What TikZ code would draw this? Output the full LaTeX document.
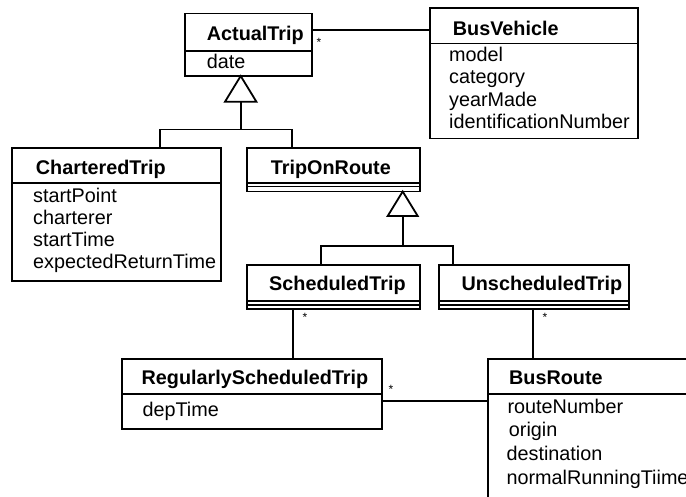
\documentclass[tikz,border=0pt]{standalone}
\usepackage{fontspec}
\setmainfont{Liberation Sans}
\begin{document}
\begin{tikzpicture}[x=1pt,y=-1pt,
  line width=1.8pt,
  cls/.style={draw, rectangle, inner sep=0pt, outer sep=0pt},
  ttl/.style={anchor=base west, inner sep=0pt, font=\bfseries\fontsize{19.8}{22}\selectfont},
  att/.style={anchor=base west, inner sep=0pt, font=\fontsize{19.8}{22}\selectfont},
  mult/.style={inner sep=0pt, font=\fontsize{12}{12}\selectfont},
  tri/.style={draw, fill=white, line join=miter}]
\useasboundingbox (0,0) rectangle (686,496);
\clip (0,0) rectangle (686,496);

% ---- class boxes ----
\node[cls, minimum width=127pt,   minimum height=62.5pt]  (at)  at (248.5,44.75) {};
\node[cls, minimum width=208pt,   minimum height=130.2pt] (bv)  at (534,73.4) {};
\node[cls, minimum width=209.3pt, minimum height=132.7pt] (ct)  at (116.35,214.65) {};
\node[cls, minimum width=172.7pt, minimum height=43.2pt]  (tor) at (333.65,169.9) {};
\node[cls, minimum width=172.7pt, minimum height=44pt]    (st)  at (333.65,287) {};
\node[cls, minimum width=190pt,   minimum height=44pt]    (ust) at (534.3,287) {};
\node[cls, minimum width=260pt,   minimum height=70pt]    (rst) at (251.7,394) {};
\node[cls, minimum width=232.3pt, minimum height=160.7pt] (br)  at (603.85,439.65) {};

% ---- compartment separators ----
\foreach \n/\d in {at/37.5, bv/35.2, ct/35, tor/34.7, tor/38.2, st/36, st/40,
                   ust/36, ust/40, rst/35, br/34.7}
  \draw ([yshift=-\d pt]\n.north west) -- ([yshift=-\d pt]\n.north east);

% ---- class names and attributes ----
\node[ttl] (at-t) at (206,40) {ActualTrip};
\node[att] (at-a1) at (206,68) {date};

\node[ttl] (bv-t) at (452,35) {BusVehicle};
\node[att] (bv-a1) at (448.3,61) {model};
\node[att] (bv-a2) at (448.3,83.5) {category};
\node[att] (bv-a3) at (448.3,106) {yearMade};
\node[att] (bv-a4) at (448.3,128.3) {identificationNumber};

\node[ttl] (ct-t) at (35,174) {CharteredTrip};
\node[att] (ct-a1) at (32.3,202.3) {startPoint};
\node[att] (ct-a2) at (32.3,224.3) {charterer};
\node[att] (ct-a3) at (32.3,246.3) {startTime};
\node[att] (ct-a4) at (32.3,268.3) {expectedReturnTime};

\node[ttl] (tor-t) at (270,174) {TripOnRoute};
\node[ttl] (st-t) at (268.3,290.7) {ScheduledTrip};
\node[ttl] (ust-t) at (460.7,290.7) {UnscheduledTrip};

\node[ttl] (rst-t) at (140.7,384.3) {RegularlyScheduledTrip};
\node[att] (rst-a1) at (141.7,416.7) {depTime};

\node[ttl] (br-t) at (508.3,384.3) {BusRoute};
\node[att] (br-a1) at (506.7,413.3) {routeNumber};
\node[att] (br-a2) at (508,436) {origin};
\node[att] (br-a3) at (505.7,460) {destination};
\node[att] (br-a4) at (505.7,484.3) {normalRunningTiime};

% ---- generalisation: ActualTrip ----
\coordinate (g1) at ([xshift=55.7pt]at.south west);
\coordinate (g1b) at ([yshift=-25.7pt]g1);
\coordinate (j1) at ([yshift=-53.5pt]g1);
\coordinate (ct-top) at ([xshift=148.3pt]ct.north west);
\coordinate (tor-top) at ([xshift=44.4pt]tor.north west);
\draw (g1b) -- (j1);
\draw (ct-top) |- (j1) -| (tor-top);
\draw[tri] (g1) -- ([xshift=-15.7pt]g1b) -- ([xshift=15.7pt]g1b) -- cycle;

% ---- generalisation: TripOnRoute ----
\coordinate (g2) at ([xshift=155.4pt]tor.south west);
\coordinate (g2b) at ([yshift=-24.5pt]g2);
\coordinate (j2) at ([yshift=-54.2pt]g2);
\coordinate (st-top) at ([xshift=73.7pt]st.north west);
\coordinate (ust-top) at ([xshift=14pt]ust.north west);
\draw (g2b) -- (j2);
\draw (st-top) |- (j2) -| (ust-top);
\draw[tri] (g2) -- ([xshift=-15pt]g2b) -- ([xshift=15pt]g2b) -- cycle;

% ---- associations ----
\coordinate (a1) at ([yshift=-16.5pt]at.north east);
\draw (a1) -- (a1 -| bv.west);
\node[mult] (m1) at (319,42) {*};

\coordinate (a2) at ([xshift=46pt]st.south west);
\draw (a2) -- (a2 |- rst.north);
\node[mult] (m2) at (305,317) {*};

\coordinate (a3) at ([xshift=94pt]ust.south west);
\draw (a3) -- (a3 |- br.north);
\node[mult] (m3) at (545,317) {*};

\coordinate (a4) at ([yshift=-41.7pt]rst.north east);
\draw (a4) -- (a4 -| br.west);
\node[mult] (m4) at (391,389) {*};
\end{tikzpicture}
\end{document}
